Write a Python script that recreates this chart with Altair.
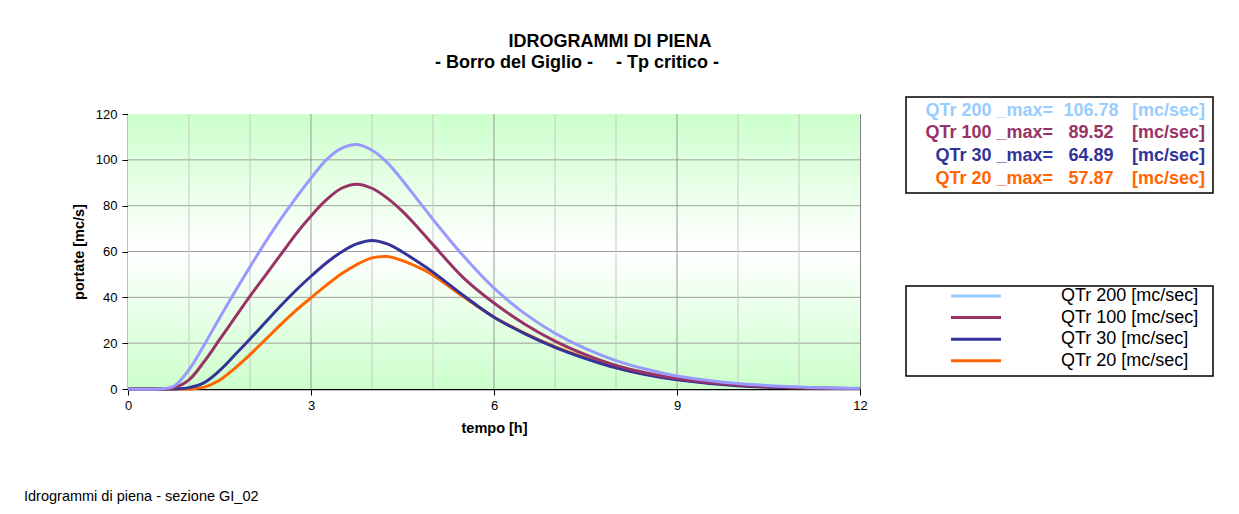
import altair as alt
import pandas as pd

# ---------------- data ----------------
T = [0, 0.5, 0.75, 1, 1.25, 1.5, 1.75, 2, 2.25, 2.5, 2.75, 3, 3.25, 3.5, 3.75,
     4, 4.25, 4.5, 4.75, 5, 5.5, 6, 6.5, 7, 7.5, 8, 8.5, 9, 10, 11, 12]

Q200 = [0, 0, 1.2, 8.5, 19.3, 31, 42.3, 53.3, 64, 74, 83.3, 92, 100, 105, 106.7,
        104.2, 98.8, 91, 82.5, 74, 58, 44, 33, 24.3, 17.6, 12.4, 8.6, 5.7, 2.4, 0.9, 0.3]
Q100 = [0, 0, 0.5, 4, 12, 21.5, 31, 40.5, 49.5, 58.5, 67.5, 75.5, 82.5, 87.6, 89.4,
        87.6, 83.3, 77.5, 70.5, 63, 48.5, 37.5, 28.4, 20.9, 15, 10.3, 7, 4.6, 1.7, 0.6, 0.2]
Q30 = [0, 0, 0, 0.6, 2.8, 8, 14.8, 21.8, 29, 36.2, 43, 49.2, 55, 59.8, 63.3,
       64.8, 63.3, 59.8, 55.5, 51, 40.8, 31.3, 24.2, 18.2, 13.3, 9.2, 6.2, 4.0, 1.4, 0.5, 0.2]
Q20 = [0, 0, 0, 0, 0.8, 3.8, 9, 15, 21.5, 28, 34.2, 39.8, 45.2, 50.3, 54.3,
       57.2, 57.8, 56, 53.2, 49.7, 40.2, 31.4, 24.4, 18.5, 13.6, 9.4, 6.4, 4.2, 1.5, 0.5, 0.2]

SERIES = ["QTr 200", "QTr 100", "QTr 30", "QTr 20"]
VALUES = [Q200, Q100, Q30, Q20]
PEAKS = ["106.78", "89.52", "64.89", "57.87"]
LINE_COLORS = ["#9999ff", "#993366", "#333399", "#ff6600"]
TEXT_COLORS = ["#99ccff", "#993366", "#333399", "#ff6600"]

X_TICKS = [0, 3, 6, 9, 12]
HOURS = list(range(13))
Y_TICKS = [0, 20, 40, 60, 80, 100, 120]

TITLE = "IDROGRAMMI DI PIENA"
SUB_LEFT = "- Borro del Giglio -"
SUB_RIGHT = "- Tp critico -"
X_TITLE = "tempo [h]"
Y_TITLE = "portate [mc/s]"
FOOTER = "Idrogrammi di piena - sezione GI_02"
UNIT = "[mc/sec]"

# ---------------- layout ----------------
W, H = 732, 275
FONT = "Liberation Sans"

x_enc = alt.X(
    "t:Q",
    scale=alt.Scale(domain=[0, 12], nice=False, zero=False),
    axis=alt.Axis(values=X_TICKS, title=X_TITLE, grid=False, tickSize=6,
                  labelFontSize=13, labelPadding=4, labelColor="black",
                  tickColor="black", domainColor="black", domainWidth=1.5,
                  titleFontSize=14.5, titleFontWeight="bold", titleColor="black",
                  titlePadding=9, labelFlush=False),
)
y_enc = alt.Y(
    "Q:Q",
    scale=alt.Scale(domain=[0, 120], nice=False),
    axis=alt.Axis(values=Y_TICKS, title=Y_TITLE, grid=False, tickSize=6,
                  labelFontSize=13, labelPadding=5, labelColor="black",
                  tickColor="black", domainColor="black", domainWidth=1.5,
                  titleFontSize=14.5, titleFontWeight="bold", titleColor="black",
                  titlePadding=9),
)

one = pd.DataFrame({"a": [0]})

gradient = alt.LinearGradient(
    gradient="linear", x1=0, y1=0, x2=0, y2=1,
    stops=[alt.GradientStop(offset=0, color="#ccffcc"),
           alt.GradientStop(offset=0.5, color="#ffffff"),
           alt.GradientStop(offset=1, color="#ccffcc")],
)
bg = alt.Chart(one).mark_rect(fill=gradient, strokeWidth=0).encode(
    x=alt.value(0), x2=alt.value(W), y=alt.value(0), y2=alt.value(H))

hgrid = alt.Chart(pd.DataFrame({"Q": Y_TICKS[1:-1]})).mark_rule(
    color="#a0a0a0", strokeWidth=1).encode(y=y_enc)

hours_df = pd.DataFrame({"t": HOURS[1:-1],
                         "major": [h % 3 == 0 for h in HOURS[1:-1]]})
vgrid = alt.Chart(hours_df).mark_rule(strokeWidth=1).encode(
    x=x_enc,
    color=alt.condition("datum.major", alt.value("#999999"), alt.value("#c8c8c8")),
)

lines = []
for name, vals, col in reversed(list(zip(SERIES, VALUES, LINE_COLORS))):
    df = pd.DataFrame({"t": T, "Q": vals})
    lines.append(
        alt.Chart(df).mark_line(color=col, strokeWidth=3, interpolate="catmull-rom")
        .encode(x=x_enc, y=y_enc)
    )


def txt(text, x, y, size, weight="normal", align="left", color="black",
        baseline="alphabetic"):
    return alt.Chart(one).mark_text(
        fontSize=size, fontWeight=weight, align=align, color=color,
        baseline=baseline, font=FONT,
    ).encode(x=alt.value(x), y=alt.value(y), text=alt.value(text))


texts = [
    txt(TITLE, 482, -67, 18, "bold", "center"),
    txt(SUB_LEFT, 307, -46, 18, "bold", "left"),
    txt(SUB_RIGHT, 591, -46, 18, "bold", "right"),
    txt(FOOTER, -104, 387, 14.5),
]

# box with peak values
box1 = alt.Chart(one).mark_rect(fill="white", stroke="black", strokeWidth=1.5).encode(
    x=alt.value(778), x2=alt.value(1085), y=alt.value(-17), y2=alt.value(79))
peak_rows = []
for i, (name, pk, col) in enumerate(zip(SERIES, PEAKS, TEXT_COLORS)):
    yy = -3.3 + i * 22.6
    peak_rows += [
        txt(f"{name} _max=", 925, yy, 18, "bold", "right", col, "middle"),
        txt(pk, 963, yy, 18, "bold", "center", col, "middle"),
        txt(UNIT, 1004, yy, 18, "bold", "left", col, "middle"),
    ]

# line legend
box2 = alt.Chart(one).mark_rect(fill="white", stroke="black", strokeWidth=1.5).encode(
    x=alt.value(778), x2=alt.value(1085), y=alt.value(172), y2=alt.value(262))
legend_rows = []
for i, (name, col) in enumerate(zip(SERIES, TEXT_COLORS)):
    yy = 182 + i * 21.6
    legend_rows.append(
        alt.Chart(one).mark_rule(color=col, strokeWidth=3).encode(
            x=alt.value(823), x2=alt.value(873), y=alt.value(yy)))
    legend_rows.append(txt(f"{name} {UNIT}", 933, yy, 18, "normal", "left", "black", "middle"))

chart = alt.layer(
    bg, hgrid, vgrid, *lines, *texts, box1, *peak_rows, box2, *legend_rows
).properties(
    width=W, height=H,
    autosize=alt.AutoSizeParams(type="none"),
    padding={"left": 120, "top": 106, "right": 371, "bottom": 117},
).configure(font=FONT).configure_view(stroke="#808080", strokeWidth=1)

chart.save("out.html", embed_options={"renderer": "svg", "actions": False})
